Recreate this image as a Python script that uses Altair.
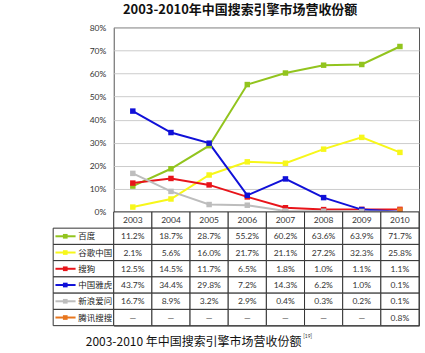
import altair as alt
import pandas as pd

years = ["2003", "2004", "2005", "2006", "2007", "2008", "2009", "2010"]
series = ["百度", "谷歌中国", "搜狗", "中国雅虎", "新浪爱问", "腾讯搜搜"]
baidu = [11.2, 18.7, 28.7, 55.2, 60.2, 63.6, 63.9, 71.7]
google = [2.1, 5.6, 16.0, 21.7, 21.1, 27.2, 32.3, 25.8]
sogou = [12.5, 14.5, 11.7, 6.5, 1.8, 1.0, 1.1, 1.1]
yahoo = [43.7, 34.4, 29.8, 7.2, 14.3, 6.2, 1.0, 0.1]
sina = [16.7, 8.9, 3.2, 2.9, 0.4, 0.3, 0.2, 0.1]
tencent = [None, None, None, None, None, None, None, 0.8]
colors = ["#92c41e", "#f7f71a", "#e8141a", "#1010d8", "#bdbdbd", "#e8761e"]
y_ticks = [0, 10, 20, 30, 40, 50, 60, 70, 80]
caption = ["2003-2010 年中国搜索引擎市场营收份额"]
footnote = ["[19]"]

values = [baidu, google, sogou, yahoo, sina, tencent]

FONT = "Lato"
CJK = "Noto Sans CJK SC"
LEG_L = -1.587  # legend column left edge, in column units

# ---------- line chart data ----------
rows = []
for s, vals in zip(series, values):
    for i, v in enumerate(vals):
        if v is not None:
            rows.append({"series": s, "x": i + 0.5, "year": years[i], "v": v})
ldf = pd.DataFrame(rows)

xs = alt.Scale(domain=[0, 8], nice=False, zero=False)
color = alt.Color("series:N", scale=alt.Scale(domain=series, range=colors), legend=None)

base = alt.Chart(ldf).encode(
    x=alt.X("x:Q", scale=xs, axis=None),
    y=alt.Y("v:Q", scale=alt.Scale(domain=[0, 80], nice=False),
            axis=alt.Axis(values=y_ticks, labelExpr="datum.value + '%'", title=None,
                          ticks=False, domain=False, labelPadding=8,
                          labelFont=FONT, labelFontSize=8.5, labelColor="#333",
                          gridColor="#cccccc", gridWidth=1)),
    color=color,
)
lines = base.mark_line(strokeWidth=2)
pts = base.mark_point(shape="square", filled=True, size=30, opacity=1)
line_chart = alt.layer(lines, pts).properties(width=306, height=185)

# ---------- table data ----------
cells = []
texts = []
for c, y in enumerate(years):
    cells.append({"x1": c, "x2": c + 1, "r1": 0, "r2": 1})
    texts.append({"x": c + 0.5, "r": 0.5, "t": y})
for r, (s, vals) in enumerate(zip(series, values), start=1):
    cells.append({"x1": LEG_L, "x2": 0, "r1": r, "r2": r + 1})
    for c, v in enumerate(vals):
        cells.append({"x1": c, "x2": c + 1, "r1": r, "r2": r + 1})
        texts.append({"x": c + 0.5, "r": r + 0.5, "t": "—" if v is None else f"{v:.1f}%"})
cdf = pd.DataFrame(cells)
tdf = pd.DataFrame(texts)

legdf = pd.DataFrame({
    "series": series,
    "r": [i + 1.5 for i in range(len(series))],
    "a": [LEG_L + 0.06] * len(series),
    "b": [-1.0] * len(series),
    "m": [-1.27] * len(series),
    "tx": [-0.93] * len(series),
})

ys = alt.Scale(domain=[0, 7], reverse=True, nice=False, zero=False)

cell_layer = alt.Chart(cdf).mark_rect(fill="white", stroke="#333", strokeWidth=1).encode(
    x=alt.X("x1:Q", scale=xs, axis=None), x2="x2:Q",
    y=alt.Y("r1:Q", scale=ys, axis=None), y2="r2:Q",
)
text_layer = alt.Chart(tdf).mark_text(font=FONT, fontSize=8.5, color="#333").encode(
    x=alt.X("x:Q", scale=xs, axis=None),
    y=alt.Y("r:Q", scale=ys, axis=None),
    text="t:N",
)
leg_line = alt.Chart(legdf).mark_rule(strokeWidth=2).encode(
    x=alt.X("a:Q", scale=xs, axis=None), x2="b:Q",
    y=alt.Y("r:Q", scale=ys, axis=None), color=color,
)
leg_pt = alt.Chart(legdf).mark_point(shape="square", filled=True, size=22, opacity=1).encode(
    x=alt.X("m:Q", scale=xs, axis=None),
    y=alt.Y("r:Q", scale=ys, axis=None), color=color,
)
leg_txt = alt.Chart(legdf).mark_text(font=CJK, fontSize=8.5, color="#222", align="left").encode(
    x=alt.X("tx:Q", scale=xs, axis=None),
    y=alt.Y("r:Q", scale=ys, axis=None),
    text="series:N",
)
cap = alt.Chart(pd.DataFrame({"t": caption})).mark_text(
    font=CJK, fontSize=12, color="#111", align="left", baseline="middle").encode(
    x=alt.value(-28), y=alt.value(130.5), text="t:N")
sup = alt.Chart(pd.DataFrame({"t": footnote})).mark_text(
    font=FONT, fontSize=5, color="#333", align="left").encode(
    x=alt.value(190), y=alt.value(124), text="t:N")

table = alt.layer(cell_layer, text_layer, leg_line, leg_pt, leg_txt, cap, sup).properties(
    width=306, height=114,
)

chart = alt.vconcat(line_chart, table, spacing=0, bounds="flush").properties(
    title=alt.TitleParams("2003-2010年中国搜索引擎市场营收份额", anchor="middle",
                          font=CJK, fontSize=13, fontWeight="bold", color="#111",
                          offset=6, dx=4),
    padding={"left": 52, "top": 3, "right": 5, "bottom": 0},
    background="white",
).configure_view(stroke="#555", strokeWidth=1)

chart.save("out.html", embed_options={"renderer": "svg", "actions": False})
